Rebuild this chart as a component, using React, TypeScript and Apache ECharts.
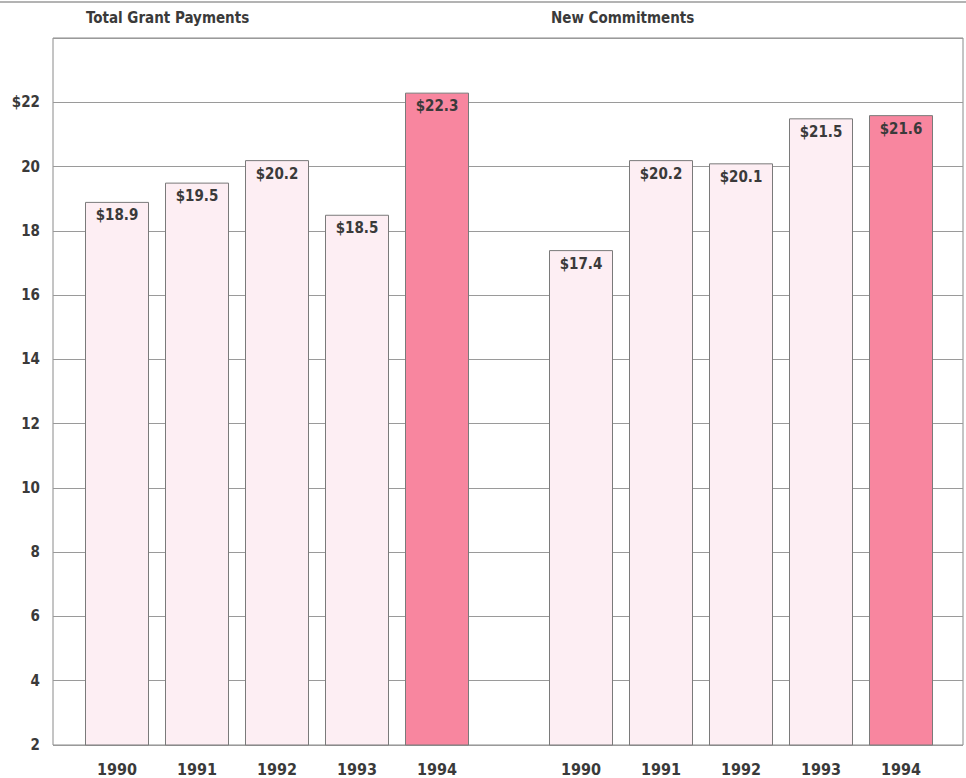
import React, { useEffect, useRef } from "react";
import * as echarts from "echarts";

const years = ["1990", "1991", "1992", "1993", "1994"];
const grantPayments = [18.9, 19.5, 20.2, 18.5, 22.3];
const newCommitments = [17.4, 20.2, 20.1, 21.5, 21.6];
const panelTitles = ["Total Grant Payments", "New Commitments"];
const yMin = 2;
const yMax = 24;
const yStep = 2;

const FONT = "'Liberation Sans Narrow', 'DejaVu Sans Condensed', 'Roboto', sans-serif";
const LIGHT = "#fdeef3";
const HIGHLIGHT = "#f8869f";
const TEXT = "#3a3a3a";

function barData(values: number[]) {
  return values.map((v, i) => ({
    value: v,
    itemStyle: { color: i === values.length - 1 ? HIGHLIGHT : LIGHT },
  }));
}

export default function App() {
  const ref = useRef<HTMLDivElement>(null);
  useEffect(() => {
    if (!ref.current) return;
    const chart = echarts.init(ref.current, null, { renderer: "svg" });
    const barGridTop = 38;
    const barGridHeight = 707;
    const yHidden = (gi: number) => ({
      type: "value" as const,
      gridIndex: gi,
      min: yMin,
      max: yMax,
      interval: yStep,
      show: false,
      splitLine: { show: false },
    });
    const xCat = (gi: number) => ({
      type: "category" as const,
      gridIndex: gi,
      data: years,
      axisLine: { show: false },
      axisTick: { show: false },
      axisLabel: {
        color: TEXT,
        fontFamily: FONT,
        fontWeight: "bold" as const,
        fontSize: 16,
        margin: 16,
      },
    });
    const seriesFor = (values: number[], gi: number) => ({
      type: "bar" as const,
      xAxisIndex: gi,
      yAxisIndex: gi,
      data: barData(values),
      barWidth: 64,
      itemStyle: { borderColor: "#7a7a7a", borderWidth: 1 },
      label: {
        show: true,
        position: "insideTop" as const,
        distance: 6,
        formatter: (p: any) => "$" + p.value.toFixed(1),
        color: TEXT,
        fontFamily: FONT,
        fontWeight: "bold" as const,
        fontSize: 15,
      },
      z: 3,
    });
    chart.setOption({
      animation: false,
      backgroundColor: "#ffffff",
      graphic: [
        {
          type: "line",
          shape: { x1: 0, y1: 2, x2: 966, y2: 2 },
          style: { stroke: "#9a9a9a", lineWidth: 1.5 },
        },
        {
          type: "text",
          left: 86,
          top: 10,
          style: {
            text: panelTitles[0],
            fill: TEXT,
            font: `bold 15px ${FONT}`,
          },
        },
        {
          type: "text",
          left: 551,
          top: 10,
          style: {
            text: panelTitles[1],
            fill: TEXT,
            font: `bold 15px ${FONT}`,
          },
        },
      ],
      grid: [
        {
          left: 53,
          top: barGridTop,
          width: 910,
          height: barGridHeight,
          show: true,
          borderColor: "#8a8a8a",
          borderWidth: 1,
          backgroundColor: "transparent",
        },
        { left: 77, top: barGridTop, width: 400, height: barGridHeight },
        { left: 541, top: barGridTop, width: 400, height: barGridHeight },
      ],
      xAxis: [
        { type: "value", gridIndex: 0, show: false, min: 0, max: 1, splitLine: { show: false } },
        xCat(1),
        xCat(2),
      ],
      yAxis: [
        {
          type: "value",
          gridIndex: 0,
          min: yMin,
          max: yMax,
          interval: yStep,
          axisLine: { show: false },
          axisTick: { show: false },
          splitLine: { show: true, lineStyle: { color: "#9a9a9a", width: 1 } },
          axisLabel: {
            margin: 13,
            color: TEXT,
            fontFamily: FONT,
            fontWeight: "bold",
            fontSize: 15,
            formatter: (v: number) => (v === yMax ? "" : v === 22 ? "$" + v : String(v)),
          },
        },
        yHidden(1),
        yHidden(2),
      ],
      series: [seriesFor(grantPayments, 1), seriesFor(newCommitments, 2)],
    });
    return () => chart.dispose();
  }, []);
  return (
    <div
      ref={ref}
      style={{ position: "fixed", left: 0, top: 0, width: 966, height: 778 }}
    />
  );
}
